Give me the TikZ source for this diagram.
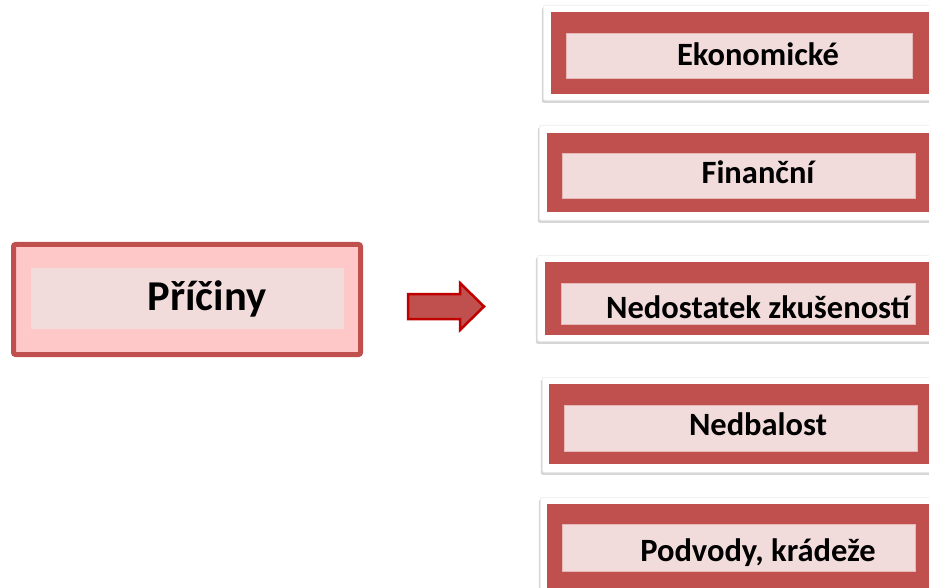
\documentclass[tikz,border=0pt]{standalone}
\usepackage{fontspec}
\setmainfont{Carlito}
\usetikzlibrary{shadows,positioning}
\definecolor{boxred}{HTML}{C0504D}
\definecolor{innerpink}{HTML}{F2DCDB}
\definecolor{leftpink}{HTML}{FFC8C8}
\definecolor{innerline}{HTML}{E6B9B8}
\definecolor{arrowline}{HTML}{C00000}
\tikzset{
  card/.style={fill=white, draw=black!8, line width=0.6pt, rounded corners=2pt,
    drop shadow={shadow xshift=-1.5pt, shadow yshift=-2.5pt, opacity=0.35, fill=black!45}},
  redbox/.style={fill=boxred, draw=none},
  innerbox/.style={fill=innerpink, draw=innerline, line width=0.8pt},
  lbl/.style={font=\fontsize{32.5}{38}\selectfont\bfseries, inner sep=0pt, anchor=base},
  biglbl/.style={font=\fontsize{42.5}{48}\selectfont\bfseries, inner sep=0pt, anchor=base},
}
\begin{document}
\begin{tikzpicture}[x=1pt,y=-1pt]
\path[use as bounding box, clip] (0,0) rectangle (929,588);
\fill[white] (0,0) rectangle (929,588);
% left box
\draw[boxred, line width=5pt, fill=leftpink, rounded corners=2pt] (13.5,244.5) rectangle (360.5,354.5);
\node[fill=innerpink, inner sep=0pt, minimum width=313pt, minimum height=61pt, anchor=north west] (pin) at (31,268) {};
\node[biglbl] (prl) at (207,310) {Příčiny};
% block arrow
\draw[arrowline, line width=2.5pt, fill=boxred, line join=miter]
  (408,294) -- (460,294) -- (460,283) -- (484,306.5) -- (460,330) -- (460,319) -- (408,319) -- cycle;
% right boxes
\foreach \n/\cx/\cy/\ch/\rx/\ry/\rh/\ix/\iy/\iw/\ih/\by/\txt in {
  1/543/5/95/551/12/82/566/33/346/45/66/Ekonomické,
  2/539/125/95/547/133/79/562/153/353/45/184/Finanční,
  3/537/255/86/545/262/73/561/283/354/41/318/Nedostatek zkušeností,
  4/542/377/95/549/384/80/564/405/353/46/435/Nedbalost,
  5/540/497/100/547/504/84/562/524/353/47/561/{Podvody, krádeže}}{
  \node[card, inner sep=0pt, minimum width=420pt, minimum height=\ch pt, anchor=north west] (c\n) at (\cx,\cy) {};
  \node[redbox, inner sep=0pt, minimum width=410pt, minimum height=\rh pt, anchor=north west] (r\n) at (\rx,\ry) {};
  \node[innerbox, inner sep=0pt, minimum width=\iw pt, minimum height=\ih pt, anchor=north west] (i\n) at (\ix,\iy) {};
  \node[lbl] (t\n) at (758,\by) {\txt};
}
\end{tikzpicture}
\end{document}
